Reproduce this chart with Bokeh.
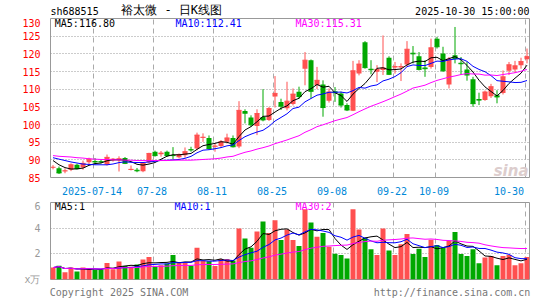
import pandas as pd
from bokeh.plotting import figure
from bokeh.layouts import column
from bokeh.models import ColumnDataSource, FixedTicker, Label, Range1d
from bokeh.embed import file_html
from bokeh.resources import INLINE

symbol = "sh688515"
title_text = "裕太微 - 日K线图"
timestamp = "2025-10-30 15:00:00"

tick_labels = ["2025-07-14", "07-28", "08-11", "08-25", "09-08", "09-22", "10-09", "10-30"]
tick_index = [7, 17, 27, 37, 47, 57, 64, 79]

open_ = [87.8, 87.6, 86.8, 87.2, 88.6, 87.8, 89.3, 89.7, 89.6, 88.7,
         89.9, 89.9, 90.5, 87.1, 87.2, 86.8, 89.3, 92.3, 91.6, 92.3,
         91.4, 90.7, 91.3, 93.0, 93.2, 96.2, 96.2, 93.7, 93.9, 95.1,
         96.2, 93.8, 103.8, 102.0, 99.6, 102.1, 101.3, 107.9, 106.4, 104.6,
         105.8, 109.3, 115.8, 118.2, 111.2, 111.3, 106.7, 109.4, 108.8, 105.5,
         103.9, 114.4, 123.3, 115.8, 114.9, 115.4, 118.9, 116.1, 116.1, 117.0,
         120.3, 119.3, 116.1, 116.3, 124.3, 120.1, 111.3, 119.6, 117.5, 115.6,
         112.8, 107.2, 106.9, 108.0, 108.3, 108.9, 115.2, 115.6, 116.8, 118.5]
high = [88.5, 88.1, 87.6, 89.0, 88.9, 89.8, 90.6, 90.5, 90.0, 91.5,
        90.5, 91.0, 90.8, 88.4, 87.7, 89.3, 92.0, 92.6, 92.5, 92.6,
        93.6, 91.8, 93.5, 93.7, 97.7, 97.5, 96.9, 94.6, 95.6, 97.4,
        96.9, 106.6, 104.3, 102.6, 104.3, 110.0, 105.0, 113.7, 107.3, 112.1,
        110.2, 110.7, 120.5, 118.4, 116.3, 112.5, 110.2, 110.6, 109.3, 106.0,
        118.0, 118.2, 123.6, 118.2, 116.8, 125.2, 119.3, 117.7, 117.3, 123.6,
        122.2, 120.5, 118.2, 124.3, 124.8, 122.0, 119.1, 127.6, 119.1, 117.7,
        113.5, 109.0, 109.6, 111.5, 109.7, 115.3, 117.7, 118.0, 118.9, 121.5]
low = [87.3, 86.0, 86.2, 86.8, 87.3, 87.2, 88.7, 88.7, 89.0, 88.4,
       89.5, 86.7, 88.8, 87.0, 86.5, 86.5, 89.0, 90.9, 90.9, 90.9,
       90.1, 90.4, 90.6, 92.3, 92.7, 95.1, 92.9, 92.3, 93.4, 94.6,
       93.5, 93.3, 100.3, 99.4, 97.0, 100.9, 101.0, 104.8, 104.1, 104.0,
       105.4, 107.2, 111.1, 107.4, 110.0, 102.2, 106.2, 106.4, 104.8, 103.8,
       103.8, 113.9, 115.8, 114.2, 112.0, 114.0, 114.0, 114.4, 112.3, 116.3,
       117.3, 115.3, 113.5, 115.8, 121.5, 114.9, 110.2, 117.3, 114.0, 112.4,
       105.0, 105.5, 106.7, 107.5, 106.0, 108.5, 114.0, 114.6, 115.8, 117.3]
close = [87.9, 86.3, 86.9, 88.6, 87.5, 89.0, 90.2, 89.4, 89.4, 90.7,
         90.2, 90.3, 89.0, 87.3, 86.9, 89.0, 91.8, 91.2, 91.9, 91.2,
         91.2, 91.5, 92.3, 92.8, 97.0, 96.4, 93.2, 93.9, 95.1, 96.2,
         93.7, 104.0, 103.2, 99.9, 103.1, 101.3, 104.5, 108.8, 105.2, 106.6,
         108.6, 107.9, 118.2, 109.4, 112.5, 104.8, 109.2, 109.0, 105.5, 104.1,
         115.2, 117.1, 116.1, 115.5, 115.6, 116.0, 114.2, 116.4, 116.4, 121.3,
         120.0, 115.6, 115.8, 121.7, 122.0, 115.2, 118.5, 118.7, 117.2, 114.0,
         105.9, 106.9, 109.2, 110.7, 107.8, 113.5, 116.9, 116.6, 117.8, 119.2]
volume = [0.93, 1.07, 0.57, 0.93, 0.62, 0.93, 0.84, 0.74, 0.74, 1.29,
          0.79, 1.40, 1.05, 1.00, 1.17, 1.55, 1.76, 1.00, 1.12, 1.24,
          1.90, 1.29, 1.29, 1.07, 2.48, 1.48, 1.43, 1.05, 1.60, 1.60,
          1.48, 3.98, 3.19, 2.48, 3.74, 4.52, 3.62, 4.62, 3.07, 3.90,
          3.07, 2.62, 5.48, 4.45, 3.34, 3.62, 2.55, 2.00, 1.90, 1.64,
          5.48, 3.90, 3.26, 2.36, 1.91, 3.98, 2.26, 1.91, 2.74, 3.55,
          1.98, 2.40, 1.76, 3.10, 2.69, 2.48, 3.02, 3.71, 1.98, 1.84,
          2.36, 1.26, 1.72, 1.84, 1.12, 1.84, 1.91, 1.12, 1.26, 1.76]

ma5_head = [89.8, 88.6, 87.8, 87.4]
ma10_head = [90.6, 90.2, 89.8, 89.4, 89.1, 88.8, 88.7, 88.6, 88.6]
ma30_head = [91.2, 91.0, 90.9, 90.8, 90.6, 90.5, 90.3, 90.2, 90.1, 90.1,
             90.0, 90.0, 89.9, 89.9, 89.8, 89.8, 89.8, 89.8, 89.8, 89.8,
             89.9, 89.9, 89.9, 89.9, 90.0, 90.1, 90.2, 90.3, 90.5]

price_ticks = [85, 90, 95, 100, 105, 110, 115, 120, 125, 130]
vol_ticks = [0, 2, 4, 6]
ma_texts = ["MA5:116.80", "MA10:112.41", "MA30:115.31"]
vol_ma_texts = ["MA5:1", "MA10:1", "MA30:2"]
unit_text = "x万"
copyright_text = "Copyright 2025 SINA.COM"
url_text = "http://finance.sina.com.cn"

RED = "#FF5050"
GREEN = "#00A800"
MA_COLORS = ["#000000", "#0000FF", "#FF00FF"]
FONT = "DejaVu Sans Mono"
FS = "10px"

n = len(close)
idx = list(range(n))
half = 2.5 / 6.0
colors = [RED if c >= o else GREEN for o, c in zip(open_, close)]


def with_head(series, head):
    vals = series.tolist()
    vals[:len(head)] = head
    return vals


cs = pd.Series(close)
ma5 = with_head(cs.rolling(5).mean(), ma5_head)
ma10 = with_head(cs.rolling(10).mean(), ma10_head)
ma30 = with_head(cs.rolling(30).mean(), ma30_head)
vs = pd.Series(volume)
vma5 = vs.rolling(5, min_periods=1).mean().tolist()
vma10 = vs.rolling(10, min_periods=1).mean().tolist()
vma30 = vs.rolling(30, min_periods=1).mean().tolist()

src = ColumnDataSource(dict(
    x=idx, xl=[i - half for i in idx], xr=[i + half for i in idx],
    o=open_, h=high, l=low, c=close,
    top=[max(o, c) for o, c in zip(open_, close)],
    bot=[min(o, c) for o, c in zip(open_, close)],
    color=colors, vol=volume,
    ma5=ma5, ma10=ma10, ma30=ma30, vma5=vma5, vma10=vma10, vma30=vma30,
))

x_start = -2.5 / 6.0
x_range = Range1d(x_start, x_start + 479 / 6.0)


def bare(p):
    p.background_fill_color = "white"
    p.border_fill_color = "white"


# ---------------- header strip (its frame is aligned with the panels: x = page pixel) ----------------
hdr = figure(width=545, height=18, x_range=Range1d(50, 529), y_range=Range1d(0, 18),
             x_axis_type=None, y_axis_type=None, output_backend="svg", toolbar_location=None,
             min_border_left=50, min_border_right=16, min_border_top=0, min_border_bottom=0)
bare(hdr)
hdr.outline_line_color = None
hdr.add_layout(Label(x=50.0, y=7.5, text=symbol, text_font=FONT, text_font_size=FS,
                     text_baseline="middle", text_color="black"))
hdr.add_layout(Label(x=120.7, y=8.5, text=title_text, text_font=FONT,
                     text_font_size="12px", text_baseline="middle", text_color="black"))
hdr.add_layout(Label(x=529.0, y=7.5, text=timestamp, text_font=FONT, text_font_size=FS,
                     text_align="right", text_baseline="middle", text_color="black"))


def style_axis(ax, color):
    ax.axis_line_color = None
    ax.major_tick_line_color = None
    ax.minor_tick_line_color = None
    ax.major_label_text_color = color
    ax.major_label_text_font = FONT
    ax.major_label_text_font_size = FS


grid_pos = [i - 1.0 / 3.0 for i in tick_index]
label_pos = [i - 0.5 for i in tick_index[:-1]] + [tick_index[-1] - 3]

# ---------------- price panel ----------------
p1 = figure(width=545, height=182, x_range=x_range, y_range=Range1d(85, 130),
            output_backend="svg", toolbar_location=None,
            min_border_left=50, min_border_right=16, min_border_top=0, min_border_bottom=23)
bare(p1)
p1.outline_line_color = "#999999"
p1.outline_line_width = 1

p1.xaxis.ticker = FixedTicker(ticks=label_pos)
p1.xaxis.major_label_overrides = {pos: lab for pos, lab in zip(label_pos, tick_labels)}
p1.xaxis.major_label_standoff = 3
style_axis(p1.xaxis, "#0088D8")
p1.yaxis.ticker = FixedTicker(ticks=price_ticks)
p1.yaxis.major_label_standoff = 4
style_axis(p1.yaxis, "#FF0000")

p1.xgrid.ticker = FixedTicker(ticks=grid_pos)
p1.xgrid.grid_line_color = "#AAAAAA"
p1.xgrid.grid_line_dash = "5 4"
p1.ygrid.ticker = FixedTicker(ticks=price_ticks[1:-1])
p1.ygrid.grid_line_color = "#999999"
p1.ygrid.grid_line_dash = "1 2"

p1.segment(x0="x", y0="l", x1="x", y1="h", line_color="color", line_width=1, source=src)
p1.vbar(x="x", top="top", bottom="bot", width=5 / 6.0, fill_color="color", line_color=None, source=src)
p1.segment(x0="xl", y0="c", x1="xr", y1="c", line_color="color", line_width=1, source=src)
for col, colr in zip(["ma5", "ma10", "ma30"], MA_COLORS):
    p1.line("x", col, line_color=colr, line_width=1, source=src)

for xx, t, colr in zip([0.3, 20.42, 40.42], ma_texts, MA_COLORS):
    p1.add_layout(Label(x=xx, y=128.58, text=t, text_font=FONT, text_font_size=FS,
                        text_baseline="middle", text_color=colr))
p1.add_layout(Label(x=79.25, y=86.98, text="sina", text_font="DejaVu Sans", text_font_size="15px",
                    text_font_style="bold italic", text_align="right", text_baseline="alphabetic",
                    text_color="#DCCDCD"))

# ---------------- volume panel (footer texts sit on its lower axis) ----------------
foot_pos = [11.0, 66.5]
foot_texts = [copyright_text, url_text]

p2 = figure(width=545, height=100, x_range=x_range, y_range=Range1d(0, 6),
            output_backend="svg", toolbar_location=None,
            min_border_left=50, min_border_right=16, min_border_top=2, min_border_bottom=14)
bare(p2)
p2.outline_line_color = "#999999"
p2.outline_line_width = 1
p2.xaxis.ticker = FixedTicker(ticks=foot_pos)
p2.xaxis.major_label_overrides = {pos: t for pos, t in zip(foot_pos, foot_texts)}
p2.xaxis.major_label_standoff = 1
style_axis(p2.xaxis, "#777777")
p2.yaxis.ticker = FixedTicker(ticks=vol_ticks)
p2.yaxis.major_label_overrides = {0: unit_text}
p2.yaxis.major_label_standoff = 4
style_axis(p2.yaxis, "#999999")
p2.xgrid.ticker = FixedTicker(ticks=grid_pos)
p2.xgrid.grid_line_color = "#AAAAAA"
p2.xgrid.grid_line_dash = "5 4"
p2.ygrid.ticker = FixedTicker(ticks=vol_ticks[1:-1])
p2.ygrid.grid_line_color = "#999999"
p2.ygrid.grid_line_dash = "1 2"

p2.vbar(x="x", top="vol", bottom=0, width=5 / 6.0, fill_color="color", line_color=None, source=src)
for col, colr in zip(["vma5", "vma10", "vma30"], MA_COLORS):
    p2.line("x", col, line_color=colr, line_width=1, source=src)

for xx, t, colr in zip([0.3, 20.25, 40.42], vol_ma_texts, MA_COLORS):
    p2.add_layout(Label(x=xx, y=5.71, text=t, text_font=FONT, text_font_size=FS,
                        text_baseline="middle", text_color=colr))

layout = column(hdr, p1, p2)
open("out.html", "w").write(file_html(layout, INLINE))
